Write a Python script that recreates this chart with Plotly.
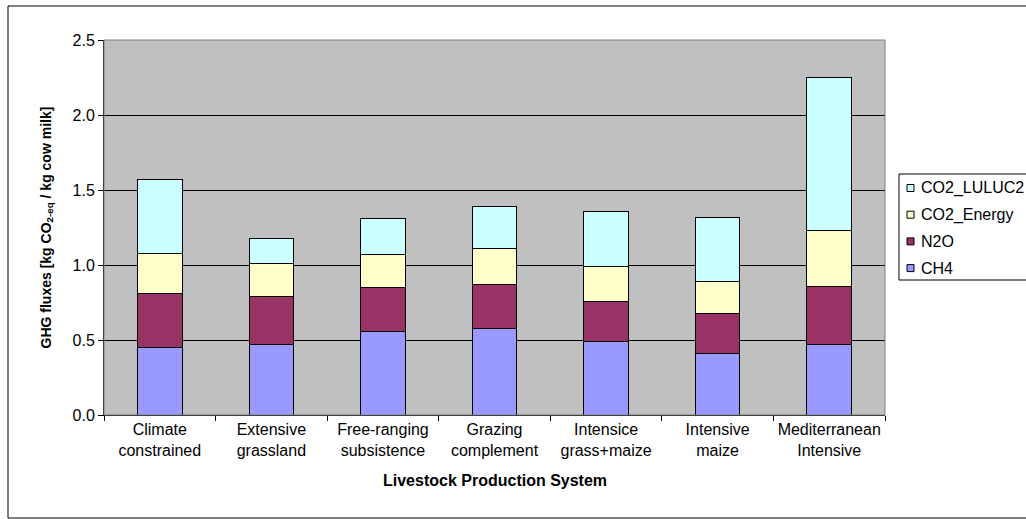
import plotly.graph_objects as go

categories = ["Climate<br>constrained", "Extensive<br>grassland", "Free-ranging<br>subsistence",
              "Grazing<br>complement", "Intensice<br>grass+maize", "Intensive<br>maize",
              "Mediterranean<br>Intensive"]
ch4 = [0.45, 0.47, 0.56, 0.58, 0.49, 0.41, 0.47]
n2o = [0.36, 0.32, 0.29, 0.29, 0.27, 0.27, 0.39]
co2_energy = [0.27, 0.22, 0.22, 0.24, 0.23, 0.21, 0.37]
co2_luluc = [0.49, 0.17, 0.24, 0.28, 0.37, 0.43, 1.02]
y_ticks = [0.0, 0.5, 1.0, 1.5, 2.0, 2.5]

series = [("CH4", ch4, "#9999FF"), ("N2O", n2o, "#993366"),
          ("CO2_Energy", co2_energy, "#FFFFCC"), ("CO2_LULUC2", co2_luluc, "#CCFFFF")]

fig = go.Figure()
for name, vals, col in series:
    fig.add_trace(go.Bar(x=categories, y=vals, name=name, showlegend=False,
                         marker=dict(color=col, line=dict(color="black", width=1))))

font = "Arial, Liberation Sans, sans-serif"
L, R, T, B = 104, 141, 40, 104
W, H = 1026, 519
pw, ph = W - L - R, H - T - B

def px_x(p):
    return (p - L) / pw

def px_y(p):
    return (H - B - p) / ph

shapes = [
    dict(type="rect", xref="paper", yref="paper", x0=0, x1=1, y0=0, y1=1,
         line=dict(color="#808080", width=1), fillcolor="rgba(0,0,0,0)", layer="above"),
    dict(type="rect", xref="paper", yref="paper",
         x0=px_x(8), x1=px_x(1040), y0=px_y(518), y1=px_y(6),
         line=dict(color="black", width=1), fillcolor="rgba(0,0,0,0)"),
    # legend box
    dict(type="rect", xref="paper", yref="paper",
         x0=px_x(899), x1=px_x(1040), y0=px_y(280), y1=px_y(174),
         line=dict(color="black", width=1), fillcolor="white"),
]
annotations = [
    dict(text="<b>GHG fluxes [kg CO<sub>2-eq</sub> / kg cow milk]</b>", textangle=-90,
         x=px_x(35), y=0.5, xref="paper", yref="paper", showarrow=False,
         font=dict(size=14)),
    dict(text="<b>Livestock Production System</b>",
         x=0.5, y=px_y(491), xref="paper", yref="paper", showarrow=False,
         font=dict(size=16)),
]
# legend entries, top-down in reverse stacking order
for i, (name, vals, col) in enumerate(reversed(series)):
    yc = 188 + i * 26.7
    shapes.append(dict(type="rect", xref="paper", yref="paper",
                       x0=px_x(907), x1=px_x(914), y0=px_y(yc + 3.5), y1=px_y(yc - 3.5),
                       line=dict(color="black", width=1), fillcolor=col))
    annotations.append(dict(text=name, x=px_x(919), y=px_y(yc), xref="paper", yref="paper",
                            xanchor="left", yanchor="middle", showarrow=False,
                            font=dict(size=16)))

fig.update_layout(
    width=W, height=H,
    margin=dict(l=L, r=R, t=T, b=B, autoexpand=False),
    barmode="stack", bargap=0.6,
    plot_bgcolor="#C0C0C0", paper_bgcolor="white",
    font=dict(family=font, size=16, color="black"),
    showlegend=False,
    xaxis=dict(type="category", tickson="boundaries", ticks="outside", ticklen=5,
               tickcolor="black", showline=True, linecolor="black", linewidth=1,
               showgrid=False, tickfont=dict(size=16), tickangle=0, mirror=False),
    yaxis=dict(range=[0, 2.5], tickvals=y_ticks, ticktext=[f"{v:.1f}" for v in y_ticks],
               ticks="outside", ticklen=5, tickcolor="black",
               showline=True, linecolor="black", linewidth=1,
               showgrid=True, gridcolor="black", gridwidth=1, zeroline=False,
               tickfont=dict(size=16)),
    annotations=annotations,
    shapes=shapes,
)

fig.write_html("out.html", config={"displayModeBar": False},
               post_script="document.body.style.margin='0';document.body.style.overflow='hidden';")
